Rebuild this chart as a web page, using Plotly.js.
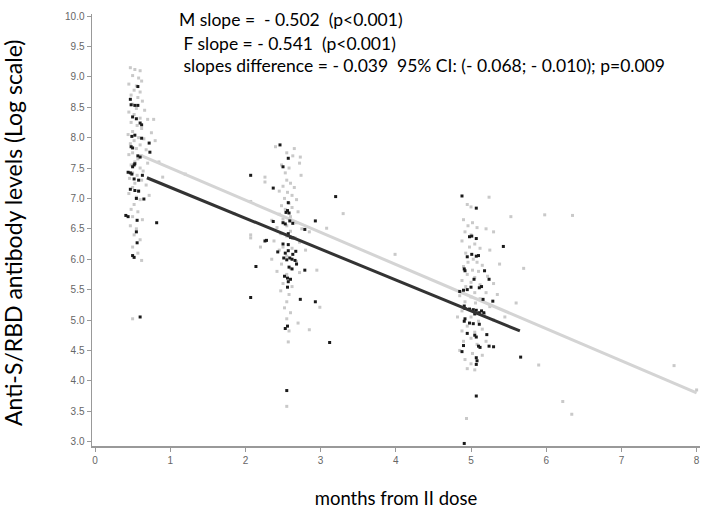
<!DOCTYPE html>
<html><head><meta charset="utf-8">
<script src="https://cdn.plot.ly/plotly-3.0.1.min.js"></script>
<style>html,body{margin:0;padding:0;background:#fff}</style>
</head><body><div id="chart" style="width:702px;height:513px"></div>
<script>
// Female (grey) observations, [months, log level]
const femalePts1 = [[0.47,9.15],[0.53,9.12],[0.6,9.1],[0.5,9.02],[0.58,8.98],[0.62,8.93],[0.45,8.88],[0.55,8.85],[0.52,8.78],[0.6,8.75],[0.48,8.7],[0.57,8.66],[0.63,8.6],[0.5,8.55],[0.55,8.48],[0.66,8.45],[0.45,8.42],[0.52,8.38],[0.6,8.32],[0.7,8.3],[0.48,8.25],[0.56,8.2],[0.62,8.15],[0.5,8.1],[0.75,8.08],[0.44,8.05],[0.58,8.0],[0.65,7.98],[0.52,7.95],[0.47,7.9],[0.6,7.88],[0.55,7.82],[0.68,7.8],[0.5,7.75],[0.45,7.72],[0.62,7.7],[0.57,7.65],[0.53,7.6],[0.7,7.58],[0.48,7.55],[0.6,7.5],[0.64,7.45],[0.5,7.42],[0.56,7.38],[0.46,7.33],[0.62,7.3],[0.53,7.25],[0.68,7.22],[0.5,7.18],[0.58,7.12],[0.45,7.08],[0.55,7.02],[0.6,6.98],[0.52,6.9],[0.48,6.82],[0.57,6.78],[0.5,6.7],[0.63,6.65],[0.47,6.55],[0.55,6.5],[0.52,6.4],[0.6,6.32],[0.5,6.2],[0.57,6.1],[0.62,5.98],[0.5,5.02],[0.8,7.95],[0.78,8.3],[0.85,7.6],[0.9,7.35],[0.72,7.05]];
const femalePts2 = [[2.4,7.85],[2.65,7.82],[2.55,7.75],[2.63,7.7],[2.73,7.68],[2.72,7.58],[2.48,7.55],[2.58,7.5],[2.26,7.35],[2.53,7.42],[2.74,7.38],[2.26,7.27],[2.55,7.3],[2.6,7.25],[2.5,7.2],[2.65,7.18],[2.45,7.12],[2.56,7.1],[2.62,7.05],[2.52,7.0],[2.68,6.98],[2.07,6.95],[2.58,6.92],[2.48,6.88],[2.62,6.85],[2.53,6.82],[2.7,6.78],[2.45,6.74],[2.6,6.7],[2.5,6.66],[2.35,6.64],[2.68,6.6],[2.55,6.55],[2.42,6.52],[2.75,6.5],[3.08,6.51],[2.6,6.46],[2.85,6.45],[2.47,6.42],[2.07,6.4],[2.55,6.38],[2.07,6.35],[2.66,6.35],[2.38,6.3],[2.72,6.28],[2.5,6.2],[2.2,6.2],[2.62,6.18],[2.45,6.15],[2.8,6.15],[2.55,6.05],[2.35,6.0],[2.68,5.96],[2.48,5.92],[2.6,5.85],[2.95,5.82],[2.42,5.8],[2.72,5.78],[2.55,5.75],[2.5,5.6],[2.62,5.55],[2.47,5.48],[2.58,5.42],[2.55,5.3],[2.99,5.21],[2.52,5.2],[2.6,5.12],[2.55,5.02],[2.7,4.95],[2.85,4.84],[2.58,4.82],[2.57,4.64],[2.55,3.58],[3.3,6.75],[1.85,6.75],[1.2,7.4],[3.99,6.08]];
const femalePts3 = [[5.24,7.02],[4.95,6.9],[5.0,6.86],[5.53,6.7],[5.98,6.73],[6.35,6.72],[4.9,6.65],[5.02,6.6],[4.96,6.55],[5.08,6.52],[5.2,6.5],[4.92,6.45],[5.3,6.45],[5.0,6.4],[4.88,6.3],[5.05,6.25],[4.98,6.2],[5.12,6.18],[5.25,6.15],[4.93,6.1],[5.03,6.0],[5.08,5.95],[4.96,5.95],[5.15,5.9],[5.38,5.92],[4.9,5.88],[5.7,5.85],[5.02,5.82],[5.1,5.8],[4.95,5.75],[5.22,5.72],[5.05,5.7],[4.88,5.65],[5.0,5.62],[5.3,5.6],[5.12,5.58],[4.93,5.55],[5.2,5.45],[5.05,5.45],[4.85,5.4],[5.35,5.42],[5.0,5.38],[5.12,5.35],[4.92,5.3],[5.6,5.28],[5.06,5.28],[5.25,5.22],[4.88,5.15],[5.18,5.1],[5.0,5.05],[4.82,5.05],[5.45,5.05],[5.3,5.0],[5.1,4.98],[4.95,4.9],[5.15,4.85],[4.88,4.82],[5.05,4.8],[5.0,4.7],[5.2,4.65],[4.9,4.65],[5.08,4.6],[4.85,4.5],[5.02,4.45],[5.15,4.42],[4.92,4.35],[5.0,4.28],[4.95,4.2],[5.05,4.18],[5.9,4.26],[6.22,3.66],[6.34,3.45],[4.94,3.38],[7.7,4.25],[8.0,3.85]];
// Male (black) observations
const malePts1 = [[0.57,8.84],[0.47,8.63],[0.48,8.54],[0.53,8.53],[0.57,8.53],[0.5,8.34],[0.55,8.31],[0.6,8.24],[0.62,8.21],[0.53,8.04],[0.49,8.02],[0.62,7.99],[0.72,7.91],[0.73,7.76],[0.48,7.85],[0.5,7.83],[0.57,7.7],[0.6,7.68],[0.52,7.55],[0.5,7.52],[0.53,7.57],[0.44,7.43],[0.47,7.42],[0.49,7.4],[0.63,7.38],[0.52,7.32],[0.58,7.3],[0.47,7.15],[0.53,7.13],[0.58,7.12],[0.65,6.99],[0.55,7.0],[0.41,6.72],[0.44,6.7],[0.82,6.6],[0.56,6.64],[0.55,6.45],[0.56,6.27],[0.5,6.06],[0.52,6.03],[0.6,5.05]];
const malePts2 = [[2.46,7.88],[2.57,7.66],[2.5,7.52],[2.07,7.38],[2.37,7.17],[3.2,7.03],[2.57,6.93],[2.56,6.8],[2.54,6.77],[2.58,6.76],[2.37,6.62],[2.5,6.6],[2.53,6.58],[2.59,6.63],[2.63,6.59],[2.93,6.63],[2.79,6.49],[2.57,6.42],[2.6,6.36],[2.63,6.35],[2.26,6.3],[2.28,6.31],[2.5,6.25],[2.57,6.24],[2.43,6.12],[2.53,6.1],[2.57,6.14],[2.67,6.13],[2.63,6.08],[2.51,6.02],[2.55,5.99],[2.59,6.02],[2.62,6.0],[2.66,5.98],[2.68,5.92],[2.14,5.88],[2.58,5.87],[2.62,5.84],[2.79,5.82],[2.52,5.72],[2.56,5.69],[2.6,5.67],[2.57,5.63],[2.56,5.54],[2.07,5.37],[2.73,5.34],[2.93,5.3],[2.56,4.9],[2.53,4.86],[3.12,4.63],[2.55,3.84]];
const malePts3 = [[4.88,7.04],[5.07,6.84],[4.98,6.37],[5.01,6.38],[5.07,6.34],[5.43,6.21],[5.01,6.08],[5.1,6.06],[4.95,6.04],[5.07,6.05],[4.91,5.84],[4.92,5.81],[5.18,5.81],[5.24,5.67],[5.04,5.67],[5.0,5.54],[5.11,5.53],[5.14,5.55],[4.95,5.5],[4.9,5.49],[4.85,5.47],[5.16,5.34],[5.29,5.31],[4.91,5.23],[4.92,5.19],[4.98,5.18],[5.03,5.17],[5.07,5.16],[5.14,5.15],[5.17,5.12],[5.05,5.1],[5.11,5.12],[4.92,5.02],[4.91,4.98],[4.98,4.95],[5.03,4.94],[5.11,4.93],[4.95,4.78],[5.05,4.75],[5.07,4.72],[5.21,4.76],[4.9,4.58],[5.1,4.57],[5.12,4.55],[5.24,4.57],[5.3,4.56],[4.88,4.48],[5.07,4.38],[5.08,4.33],[5.07,4.27],[5.66,4.39],[5.07,3.75],[4.91,2.97]];
// Regression line end points
const fitFemaleX = [0.6, 8.0];
const fitFemaleY = [7.71, 3.80];
const fitMaleX = [0.69, 5.65];
const fitMaleY = [7.34, 4.82];
const xTitle = 'months from II dose';
const yTitle = 'Anti-S/RBD antibody levels (Log scale)';
const annotationLines = [
  "M slope =  - 0.502  (p<0.001)",
  " F slope = - 0.541  (p<0.001)",
  " slopes difference = - 0.039  95% CI: (- 0.068; - 0.010); p=0.009"
];

const fem = femalePts1.concat(femalePts2, femalePts3);
const mal = malePts1.concat(malePts2, malePts3);
const traces = [
  {type:'scatter', mode:'markers', x:fem.map(p=>p[0]), y:fem.map(p=>p[1]),
   marker:{symbol:'square', size:3, color:'#c9c9c9'}, hoverinfo:'skip'},
  {type:'scatter', mode:'lines', x:fitFemaleX, y:fitFemaleY, line:{color:'#d4d4d4', width:3}},
  {type:'scatter', mode:'markers', x:mal.map(p=>p[0]), y:mal.map(p=>p[1]),
   marker:{symbol:'square', size:3, color:'#1a1a1a'}, hoverinfo:'skip'},
  {type:'scatter', mode:'lines', x:fitMaleX, y:fitMaleY, line:{color:'#333333', width:3}}
];
const axisCommon = {showline:true, linecolor:'#999', linewidth:1.5, ticks:'outside', ticklen:4,
  tickcolor:'#999', tickwidth:1, showgrid:false, zeroline:false,
  tickfont:{family:'Liberation Sans, Arial, sans-serif', size:10, color:'#666'}};
const annY = [19, 43, 65];
const annX = [177, 177, 177];
const titleFont = {family:'Lato, Open Sans, sans-serif', color:'#000'};
const annotations = annotationLines.map((t,i)=>({text:t.replace(/ /g,'&nbsp;'), xref:'paper', yref:'paper',
    x:(annX[i]-92)/608, y:(446-annY[i])/432, xanchor:'left', yanchor:'middle', showarrow:false,
    font:Object.assign({size:17.5}, titleFont)}));
annotations.push({text:yTitle, textangle:-90, xref:'paper', yref:'paper',
  x:(13-92)/608, y:(446-233)/432, xanchor:'center', yanchor:'middle', showarrow:false,
  font:Object.assign({size:23}, titleFont)});
const layout = {
  width:702, height:513, margin:{l:92, r:2, t:14, b:67},
  paper_bgcolor:'#fff', plot_bgcolor:'#fff', showlegend:false,
  xaxis: Object.assign({}, axisCommon, {range:[-0.04, 8.045], dtick:1, tick0:0,
    title:{text:xTitle, font:Object.assign({size:18.5}, titleFont), standoff:27}}),
  yaxis: Object.assign({}, axisCommon, {range:[2.928, 10.033], dtick:0.5, tick0:3, tickformat:'.1f'}),
  annotations: annotations
};
Plotly.newPlot('chart', traces, layout, {staticPlot:true, displayModeBar:false});
</script></body></html>
